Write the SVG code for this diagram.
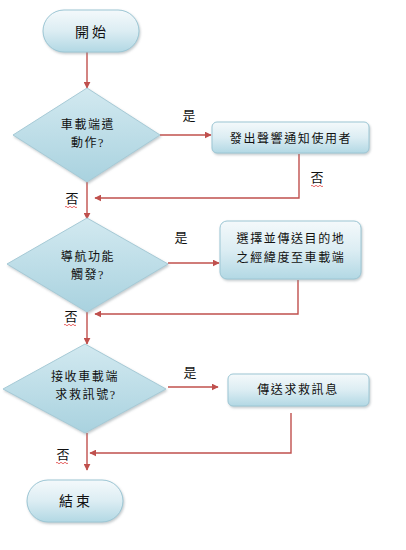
<svg xmlns="http://www.w3.org/2000/svg" width="406" height="550" viewBox="0 0 406 550">
<defs>
<linearGradient id="gT" x1="0" y1="0" x2="0" y2="1">
<stop offset="0" stop-color="#f4f9fb"/>
<stop offset="0.5" stop-color="#dcedf3"/>
<stop offset="1" stop-color="#b2d8e4"/>
</linearGradient>
<linearGradient id="gD" x1="0" y1="0" x2="0" y2="1">
<stop offset="0" stop-color="#d2e9f0"/>
<stop offset="1" stop-color="#a9d2df"/>
</linearGradient>
<filter id="sh" x="-10%" y="-10%" width="120%" height="130%">
<feDropShadow dx="1" dy="1.5" stdDeviation="1" flood-color="#7a8a90" flood-opacity="0.45"/>
</filter>
<marker id="ah" viewBox="0 0 10 10" refX="9" refY="5" markerWidth="7" markerHeight="7" markerUnits="userSpaceOnUse" orient="auto">
<path d="M0,0 L10,5 L0,10 z" fill="#c0504d"/>
</marker>
</defs>
<style>
.box{fill:url(#gT);stroke:#9cc6d4;stroke-width:1;filter:url(#sh)}
.dia{fill:url(#gD);stroke:#a6cad6;stroke-width:1;filter:url(#sh)}
.t{font-family:"Liberation Serif","Noto Sans CJK TC",serif;font-size:12px;letter-spacing:1.6px;fill:#111;text-anchor:middle}
.tb{font-family:"Liberation Serif","Noto Sans CJK TC",serif;font-size:14px;letter-spacing:3px;fill:#111;text-anchor:middle}
.lb{font-family:"Liberation Serif","Noto Sans CJK TC",serif;font-size:13px;fill:#111;text-anchor:middle}
.c{fill:none;stroke:#c0504d;stroke-width:1.4}
.w{fill:none;stroke:#e04040;stroke-width:0.8}
</style>
<g id="connectors">
<path class="c" d="M87,52 V88" marker-end="url(#ah)"/>
<path class="c" d="M160,135 H211" marker-end="url(#ah)"/>
<path class="c" d="M299,154 V198 H95" marker-end="url(#ah)"/>
<path class="c" d="M87,182 V219" marker-end="url(#ah)"/>
<path class="c" d="M168,263 H219" marker-end="url(#ah)"/>
<path class="c" d="M298,280 V314 H95" marker-end="url(#ah)"/>
<path class="c" d="M87,312 V344" marker-end="url(#ah)"/>
<path class="c" d="M168,387 H218" marker-end="url(#ah)"/>
<path class="c" d="M291,413 V453 H90" marker-end="url(#ah)"/>
<path class="c" d="M87,433 V470" marker-end="url(#ah)"/>
</g>
<g id="labels">
<text class="lb" x="189" y="120">是</text>
<text class="lb" x="317" y="182">否</text>
<path class="w" d="M311,186 q1,-1.5 2,0 t2,0 t2,0 t2,0 t2,0 t2,0"/>
<text class="lb" x="72" y="203">否</text>
<path class="w" d="M65,207 q1,-1.5 2,0 t2,0 t2,0 t2,0 t2,0 t2,0"/>
<text class="lb" x="181" y="242">是</text>
<text class="lb" x="71" y="321">否</text>
<path class="w" d="M64,325 q1,-1.5 2,0 t2,0 t2,0 t2,0 t2,0 t2,0"/>
<text class="lb" x="190" y="377">是</text>
<text class="lb" x="63" y="459">否</text>
<path class="w" d="M56,463 q1,-1.5 2,0 t2,0 t2,0 t2,0 t2,0 t2,0"/>
</g>
<g id="start">
<rect class="box" x="43" y="10" width="96" height="42" rx="21"/>
<text class="tb" x="92" y="37">開始</text>
</g>
<g id="decision1">
<polygon class="dia" points="87,88 160,135 87,182 13,135"/>
<text class="t" x="88" y="129">車載端遣</text>
<text class="t" x="88" y="147">動作?</text>
</g>
<g id="process1">
<rect class="box" x="212" y="122" width="157" height="31" rx="5"/>
<text class="t" x="291" y="143">發出聲響通知使用者</text>
</g>
<g id="decision2">
<polygon class="dia" points="87,218 168,264 87,312 7,264"/>
<text class="t" x="88" y="261">導航功能</text>
<text class="t" x="88" y="279">觸發?</text>
</g>
<g id="process2">
<rect class="box" x="220" y="221" width="141" height="58" rx="7"/>
<text class="t" x="291" y="243">選擇並傳送目的地</text>
<text class="t" x="291" y="262">之經緯度至車載端</text>
</g>
<g id="decision3">
<polygon class="dia" points="85,344 166,389 85,433 3,389"/>
<text class="t" x="85" y="381">接收車載端</text>
<text class="t" x="86" y="399">求救訊號?</text>
</g>
<g id="process3">
<rect class="box" x="228" y="374" width="141" height="32" rx="5"/>
<text class="t" x="298" y="394">傳送求救訊息</text>
</g>
<g id="end">
<rect class="box" x="27" y="480" width="96" height="42" rx="21"/>
<text class="tb" x="76" y="506">結束</text>
</g>
</svg>
